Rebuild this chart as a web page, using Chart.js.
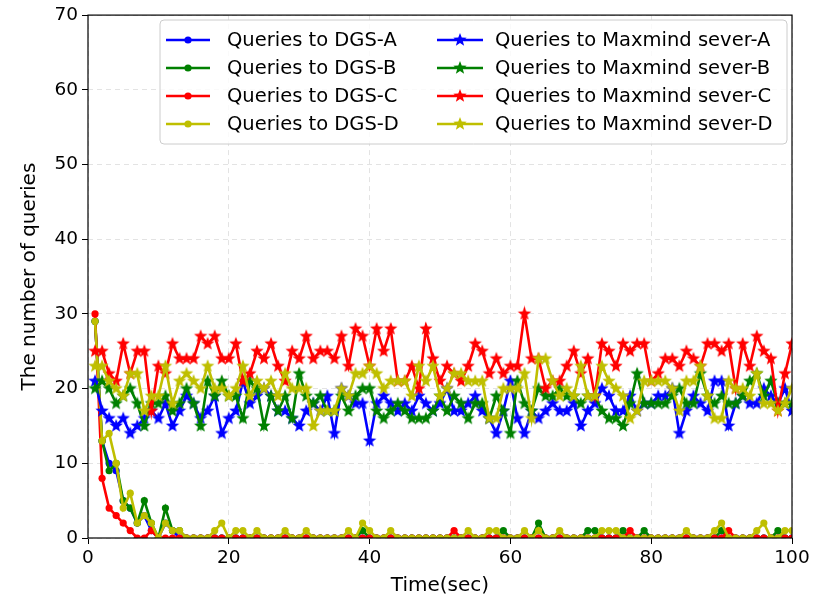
<!DOCTYPE html>
<html>
<head>
<meta charset="utf-8">
<script src="https://cdn.jsdelivr.net/npm/chart.js@4"></script>
<style>
  html, body { margin: 0; padding: 0; background: #fff; }
  #wrap { width: 822px; height: 599px; }
</style>
</head>
<body>
<div id="wrap"><canvas id="queryChart"></canvas></div>
<script>
// Queries per second to DGS servers vs Maxmind servers
const xTicks = [0, 20, 40, 60, 80, 100];
const yTicks = [0, 10, 20, 30, 40, 50, 60, 70];

const dgsA = [29,13,10,9,5,4,2,3,1,0, 2,1,0,0,0,0,0,0,0,0,
              0,0,0,0,0,0,0,0,0,0, 0,0,0,0,0,0,0,0,0,0,
              0,0,0,0,0,0,0,0,0,0, 0,0,0,0,0,0,0,0,0,0,
              0,0,0,0,0,0,0,0,0,0, 0,0,0,0,0,0,0,0,0,0,
              0,0,0,0,0,0,0,0,0,0, 0,0,0,0,0,0,0,0,0,0];
const dgsB = [29,13,9,10,5,4,2,5,2,0, 4,1,1,0,0,0,0,0,0,0,
              0,0,0,0,0,0,0,0,0,0, 0,0,0,0,0,0,0,0,1,0,
              0,0,0,0,0,0,0,0,0,0, 0,0,0,0,0,0,0,0,1,0,
              0,0,0,2,0,0,0,0,0,0, 1,1,0,0,0,1,0,0,1,0,
              0,0,0,0,0,0,0,0,0,1, 0,0,0,0,0,0,0,1,0,0];
const dgsC = [30,8,4,3,2,1,0,0,1,0, 0,0,0,0,0,0,0,0,0,0,
              0,0,0,0,0,0,0,0,0,0, 0,0,0,0,0,0,0,0,0,0,
              0,0,0,0,0,0,0,0,0,0, 0,1,0,0,0,0,0,0,0,0,
              0,0,0,0,0,0,0,0,0,0, 0,0,0,0,0,0,1,0,0,0,
              0,0,0,0,0,0,0,0,0,0, 1,0,0,0,0,0,0,0,0,0];
const dgsD = [29,13,14,10,4,6,2,3,2,0, 2,1,1,0,0,0,0,1,2,0,
              1,1,0,1,0,0,0,1,0,0, 1,0,0,0,0,0,1,0,2,1,
              0,0,1,0,0,0,0,0,0,0, 0,0,0,1,0,0,1,1,0,0,
              0,1,0,1,0,0,1,0,0,0, 0,0,1,1,1,0,0,0,0,0,
              0,0,0,0,1,0,0,0,1,2, 0,0,0,0,1,2,0,0,1,1];

const maxA = [21,17,16,15,16,14,15,16,17,16, 18,15,17,19,18,16,17,19,14,16,
              17,21,18,19,20,19,17,17,16,15, 17,18,17,19,14,20,19,18,18,13,
              18,19,18,17,18,17,19,18,17,18, 20,17,17,18,19,17,16,14,17,21,
              16,14,17,16,17,18,17,17,18,15, 17,18,20,19,17,17,19,17,18,18,
              19,19,20,14,17,19,18,17,21,21, 15,18,19,18,18,20,19,18,20,17];
const maxB = [20,21,20,18,19,20,18,15,18,18, 19,17,18,20,18,15,21,19,21,19,
              19,16,21,20,15,19,17,19,16,22, 19,18,19,17,17,19,17,19,20,20,
              17,16,17,18,17,16,16,16,17,19, 17,19,18,16,18,18,16,19,17,14,
              21,18,17,20,19,19,20,19,19,18, 19,19,17,16,16,15,18,22,18,18,
              18,18,19,20,18,18,22,19,18,19, 18,18,19,21,22,19,21,18,18,18];
const maxC = [25,25,22,21,26,22,25,25,17,23, 22,26,24,24,24,27,26,27,24,24,
              26,21,22,25,24,26,23,21,25,24, 27,24,25,25,24,27,23,28,27,23,
              28,25,28,21,21,23,20,28,24,21, 23,22,21,23,26,25,22,24,22,23,
              23,30,24,24,20,21,21,23,25,22, 24,19,26,25,23,26,25,26,26,21,
              22,24,24,23,25,24,23,26,26,25, 26,20,26,23,27,25,24,17,22,26];
const maxD = [23,23,21,20,19,22,22,17,19,19, 23,18,21,22,21,20,23,20,20,19,
              20,23,19,21,20,21,19,22,20,20, 20,15,17,17,17,20,19,22,22,23,
              22,20,21,21,21,19,23,21,23,19, 20,22,22,21,21,21,16,16,20,20,
              20,22,16,24,24,21,19,20,19,23, 19,19,23,21,20,19,16,17,21,21,
              21,21,20,17,21,21,23,19,16,16, 21,20,20,19,22,18,18,17,18,20];

const seconds = dgsA.map((_, i) => i + 1);

const seriesLabels = ['Queries to DGS-A', 'Queries to DGS-B', 'Queries to DGS-C', 'Queries to DGS-D',
                      'Queries to Maxmind sever-A', 'Queries to Maxmind sever-B',
                      'Queries to Maxmind sever-C', 'Queries to Maxmind sever-D'];
const seriesValues = [dgsA, dgsB, dgsC, dgsD, maxA, maxB, maxC, maxD];
const colors = ['#0000ff', '#008000', '#ff0000', '#bfbf00'];
const FONT = 'DejaVu Sans';

function starImage(color, r) {
    const c = document.createElement('canvas');
    const s = Math.ceil(r * 2 + 2);
    c.width = c.height = s;
    const g = c.getContext('2d');
    g.beginPath();
    for (let i = 0; i < 10; i++) {
        const rad = i % 2 ? r * 0.42 : r;
        const a = -Math.PI / 2 + i * Math.PI / 5;
        g.lineTo(s / 2 + rad * Math.cos(a), s / 2 + rad * Math.sin(a));
    }
    g.closePath();
    g.fillStyle = color;
    g.fill();
    return c;
}
const stars = colors.map(c => starImage(c, 7));

const datasets = seriesValues.map((vals, i) => {
    const col = colors[i % 4];
    const isStar = i >= 4;
    return {
        label: seriesLabels[i],
        data: vals.map((v, k) => ({ x: seconds[k], y: v })),
        borderColor: col,
        backgroundColor: col,
        borderWidth: 2.6,
        pointStyle: isStar ? stars[i % 4] : 'circle',
        pointRadius: isStar ? 7 : 3.6,
        pointBorderWidth: 0,
        tension: 0,
        clip: 0,
        order: 7 - i
    };
});

// frame + matplotlib style legend (2 columns)
const framePlugin = {
    id: 'frame',
    afterDraw(chart) {
        const { ctx, chartArea: a } = chart;
        ctx.save();
        ctx.strokeStyle = '#000';
        ctx.lineWidth = 1.2;
        ctx.strokeRect(a.left, a.top, a.right - a.left, a.bottom - a.top);

        const bx = 160, by = 20, bw = 627, bh = 124;
        ctx.beginPath();
        ctx.roundRect(bx, by, bw, bh, 4);
        ctx.fillStyle = 'rgba(255,255,255,0.8)';
        ctx.fill();
        ctx.strokeStyle = '#cccccc';
        ctx.lineWidth = 1;
        ctx.stroke();

        const rowsY = [40, 68, 96, 124];
        const cols = [{ x1: 166, x2: 210, tx: 227 }, { x1: 437, x2: 483, tx: 495 }];
        ctx.font = '19.5px "' + FONT + '"';
        ctx.textBaseline = 'middle';
        ctx.textAlign = 'left';
        seriesLabels.forEach((lab, i) => {
            const c = cols[Math.floor(i / 4)];
            const y = rowsY[i % 4];
            const col = colors[i % 4];
            ctx.strokeStyle = col;
            ctx.lineWidth = 2.6;
            ctx.beginPath();
            ctx.moveTo(c.x1, y);
            ctx.lineTo(c.x2, y);
            ctx.stroke();
            const mx = (c.x1 + c.x2) / 2;
            if (i >= 4) {
                const img = stars[i % 4];
                ctx.drawImage(img, mx - img.width / 2, y - img.height / 2);
            } else {
                ctx.fillStyle = col;
                ctx.beginPath();
                ctx.arc(mx, y, 3.6, 0, Math.PI * 2);
                ctx.fill();
            }
            ctx.fillStyle = '#000';
            ctx.fillText(lab, c.tx, y + 1);
        });
        ctx.restore();
    }
};

new Chart(document.getElementById('queryChart'), {
    type: 'line',
    data: { datasets },
    options: {
        responsive: true,
        maintainAspectRatio: false,
        animation: false,
        layout: { padding: { top: 13, right: 30, left: 0, bottom: 0 } },
        plugins: { legend: { display: false }, tooltip: { enabled: false } },
        scales: {
            x: {
                type: 'linear', min: 0, max: 100,
                afterFit: s => { s.height = 61; },
                afterBuildTicks: s => { s.ticks = xTicks.map(v => ({ value: v })); },
                ticks: { color: '#000', font: { family: FONT, size: 18.5 }, padding: 3, maxRotation: 0 },
                grid: { color: '#e3e3e3', tickColor: '#000', tickLength: 6, tickBorderDash: [], lineWidth: 1 },
                border: { display: false, dash: [5, 4] },
                title: { display: true, text: 'Time(sec)', color: '#000', font: { family: FONT, size: 20 }, padding: { top: 0, bottom: 1 } }
            },
            y: {
                min: 0, max: 70,
                afterFit: s => { s.width = 88; },
                afterBuildTicks: s => { s.ticks = yTicks.map(v => ({ value: v })); },
                ticks: { color: '#000', font: { family: FONT, size: 18.5 }, padding: 4 },
                grid: { color: '#e3e3e3', tickColor: '#000', tickLength: 6, tickBorderDash: [], lineWidth: 1 },
                border: { display: false, dash: [5, 4] },
                title: { display: true, text: 'The number of queries', color: '#000', font: { family: FONT, size: 20 }, padding: { top: 18, bottom: 0 } }
            }
        }
    },
    plugins: [framePlugin]
});
</script>
</body>
</html>
